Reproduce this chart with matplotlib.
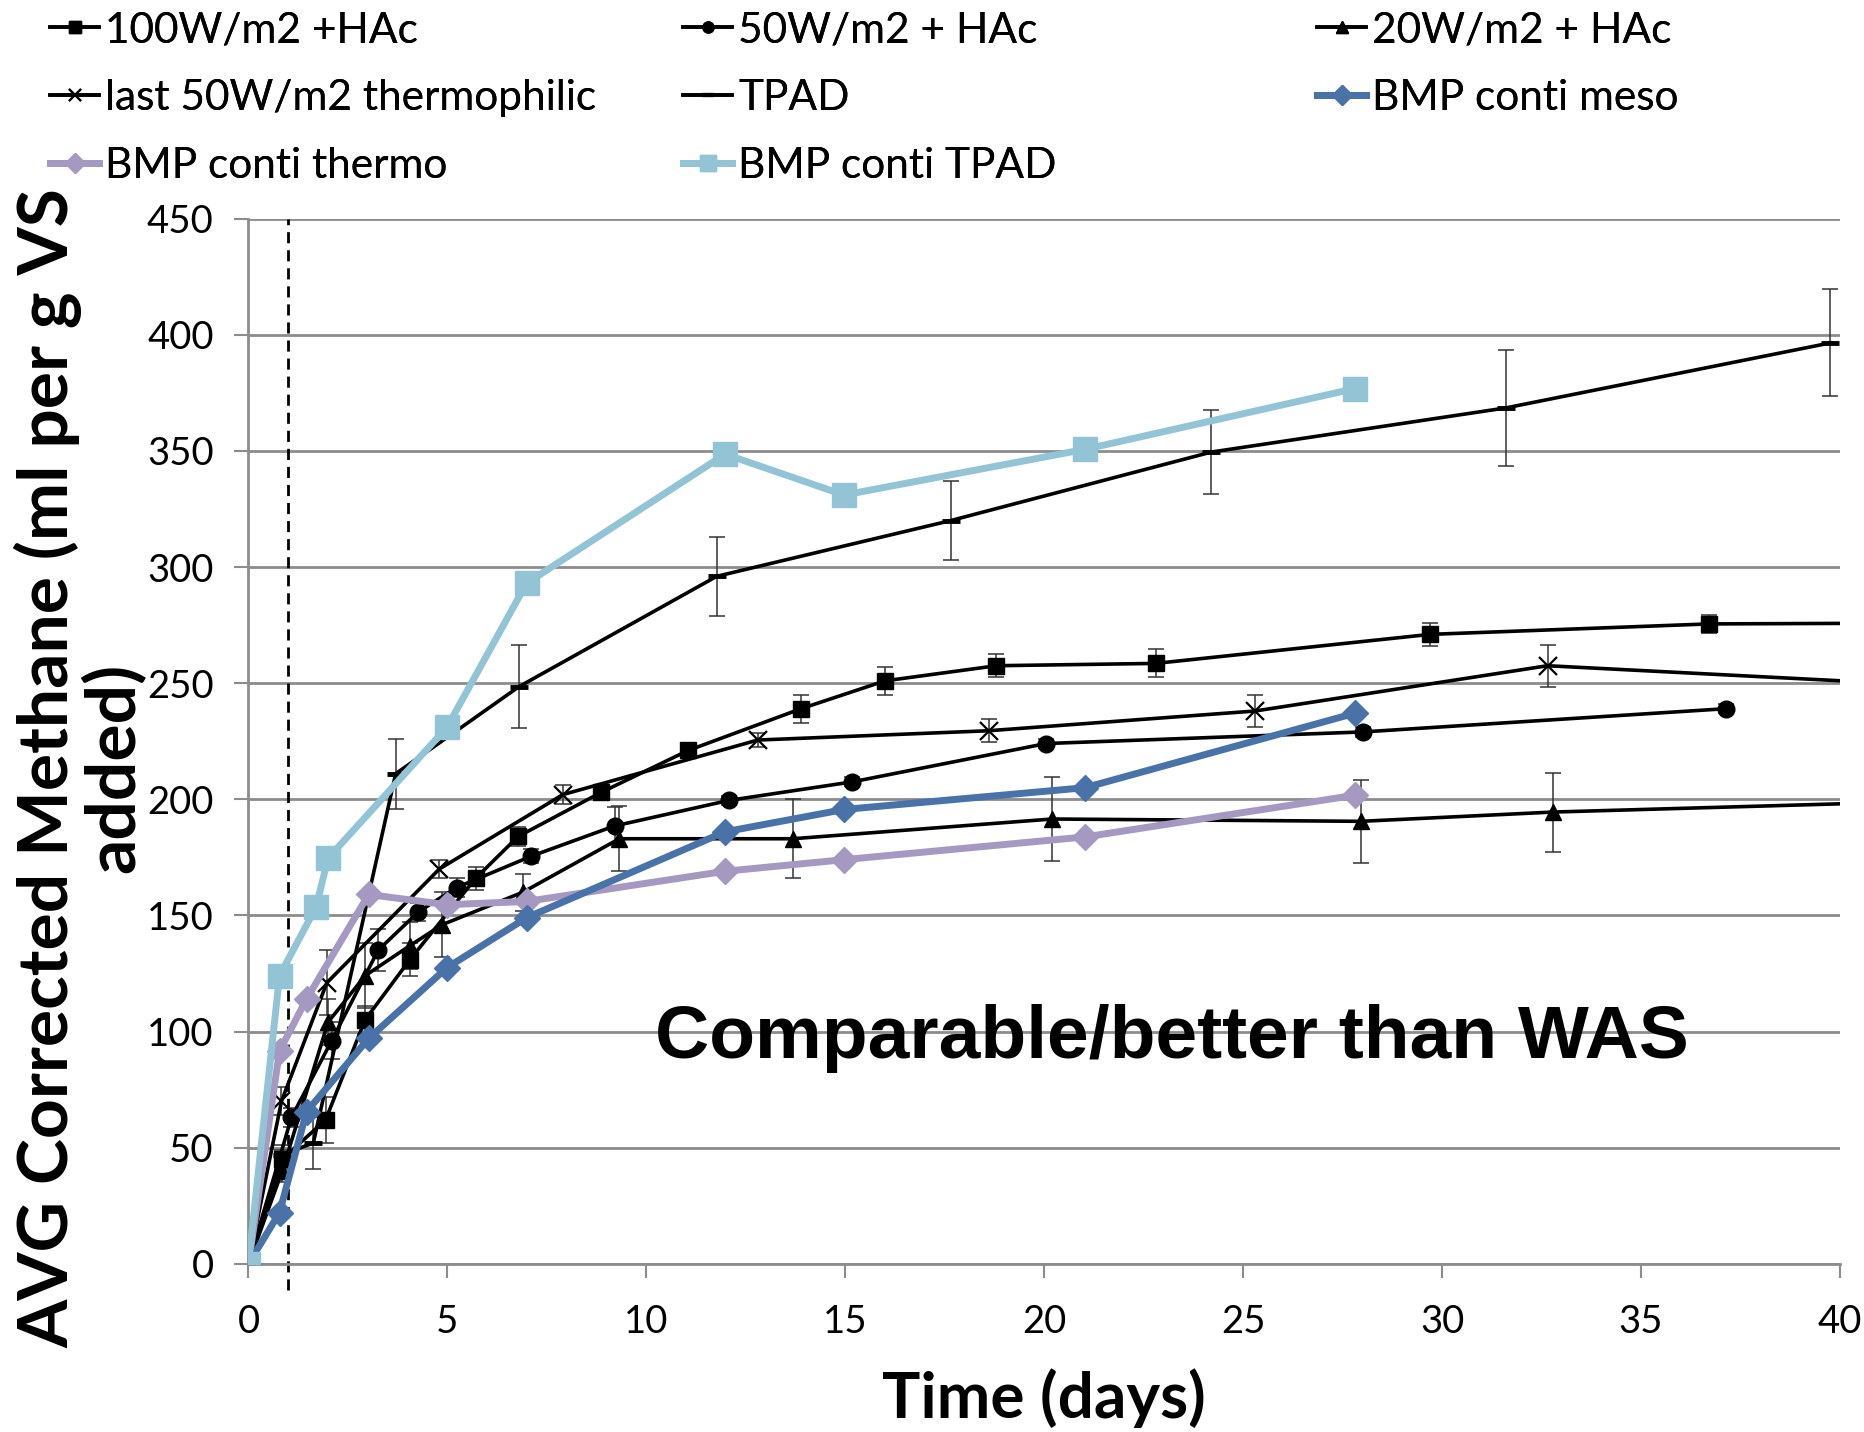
import matplotlib
matplotlib.use("Agg")
import matplotlib.pyplot as plt
from matplotlib.lines import Line2D
from matplotlib import font_manager as fm

# ---------------- data ----------------
t_100 = [0, 0.85, 1.94, 2.93, 4.06, 5.71, 6.78, 8.87, 11.05, 13.89, 16.0, 18.8, 22.8, 29.7, 36.7, 44]
y_100 = [0, 45, 62, 105, 131, 166, 184, 203, 221, 239, 251, 257.5, 258.5, 271, 275.5, 276]
e_100 = [0, 4, 10, 6, 7, 5, 4, 3, 3, 6, 6, 5, 6, 5, 4, 0]

t_50 = [0, 1.08, 2.09, 3.26, 4.27, 5.23, 7.11, 9.2, 12.07, 15.18, 20.05, 28.02, 37.13]
y_50 = [0, 63, 96, 135, 151.5, 162, 175.5, 188.5, 199.5, 207.5, 224, 229, 239]
e_50 = [0, 4, 8, 9, 4, 4, 3, 8, 2, 2, 2, 2, 2]

t_20 = [0, 0.85, 2.0, 2.93, 4.06, 4.87, 6.9, 9.32, 13.68, 20.2, 27.96, 32.8, 44]
y_20 = [0, 40, 104, 124, 137, 146, 160, 183, 183, 191.5, 190.5, 194.5, 200]
e_20 = [0, 5, 10, 14, 10, 14, 8, 14, 17, 18, 18, 17, 0]

t_last = [0, 0.83, 1.97, 4.8, 7.9, 12.8, 18.6, 25.3, 32.65, 44]
y_last = [0, 70, 121, 170, 202, 225.5, 229.5, 238, 257.5, 247.5]
e_last = [0, 6, 14, 4, 4, 3, 5, 7, 9, 0]

t_tpad = [0, 0.85, 1.63, 3.7, 6.8, 11.77, 17.65, 24.2, 31.6, 39.76]
y_tpad = [0, 47, 52, 211, 248.5, 296, 320, 349.5, 368.5, 396.5]
e_tpad = [0, 4, 11, 15, 18, 17, 17, 18, 25, 23]

t_bmp = [0, 0.78, 1.46, 3.02, 4.99, 6.99, 11.98, 14.97, 21.03, 27.8]
y_meso = [0, 22, 65.5, 97, 127.5, 149, 186, 195.6, 205, 237]
y_thermo = [0, 91.6, 114, 159, 154.6, 156, 169, 174, 183.8, 201.7]
t_bmp_tpad = [0, 0.78, 1.7, 2.0, 4.99, 6.99, 11.98, 14.97, 21.03, 27.8]
y_bmp_tpad = [0, 124, 153.6, 174.6, 231, 293, 348.6, 331, 350.7, 376.8]

labels = ["100W/m2 +HAc", "50W/m2 + HAc", "20W/m2 + HAc",
          "last 50W/m2 thermophilic", "TPAD", "BMP conti meso",
          "BMP conti thermo", "BMP conti TPAD"]

x_ticks = [0, 5, 10, 15, 20, 25, 30, 35, 40]
y_ticks = [0, 50, 100, 150, 200, 250, 300, 350, 400, 450]

# ---------------- fonts ----------------
available = {f.name for f in fm.fontManager.ttflist}
def pick(cands, default="DejaVu Sans"):
    for c in cands:
        if c in available:
            return c
    return default

NARROW = pick(["Lato", "Carlito"])
ARIAL = pick(["Liberation Sans", "Arimo", "Arial"])
plt.rcParams["font.family"] = [NARROW, "DejaVu Sans"]

C_MESO = "#4872A8"
C_THERMO = "#A699C1"
C_LTPAD = "#92C4D6"
GRID = "#8C8C8C"

fig = plt.figure(figsize=(18.64, 14.32), dpi=100)
ax = fig.add_axes([0.1333, 0.1175, 0.9871 - 0.1333, 0.8473 - 0.1175])

ax.set_xlim(0, 40)
ax.set_ylim(0, 450)
ax.set_xticks(x_ticks)
ax.set_yticks(y_ticks)
ax.yaxis.grid(True, color=GRID, lw=2)
ax.set_axisbelow(True)
for s in ["top", "right"]:
    ax.spines[s].set_visible(False)
for s in ["left", "bottom"]:
    ax.spines[s].set_color(GRID)
    ax.spines[s].set_linewidth(2)
ax.tick_params(axis="both", colors=GRID, length=10, width=1.5, labelsize=27.5,
               labelcolor="black")
ax.tick_params(axis="y", pad=15)
ax.tick_params(axis="x", pad=19)

# reference dashed line at day 1
ax.axvline(1.0, ymin=-0.025, ymax=1.0, color="black", lw=2, ls=(0, (4, 2.5)),
           clip_on=False, zorder=2)

black_kw = dict(color="black", lw=2.6, zorder=3)
err_kw = dict(fmt="none", ecolor="#333333", elinewidth=1.1, capsize=6, capthick=1.1, zorder=2)

series_black = [
    (t_100, y_100, e_100, dict(marker="s", ms=12)),
    (t_50, y_50, e_50, dict(marker="o", ms=12)),
    (t_20, y_20, e_20, dict(marker="^", ms=12)),
    (t_last, y_last, e_last, dict(marker="x", ms=13, mew=1.6)),
    (t_tpad, y_tpad, e_tpad, dict(marker="_", ms=13, mew=3.5)),
]
for t, y, e, mk in series_black:
    ax.errorbar(t, y, yerr=e, **err_kw)
    ax.plot(t, y, **black_kw, **mk)

ax.plot(t_bmp, y_thermo, color=C_THERMO, lw=5, marker="D", ms=13, zorder=4)
ax.plot(t_bmp, y_meso, color=C_MESO, lw=5, marker="D", ms=13, zorder=5)
ax.plot(t_bmp_tpad, y_bmp_tpad, color=C_LTPAD, lw=5, marker="s", ms=17, zorder=5)

ax.text(23.2, 97, "Comparable/better than WAS", ha="center", va="center",
        fontsize=54, fontweight="bold", family=[ARIAL, "DejaVu Sans"], zorder=6)

ax.set_xlabel("Time (days)", fontsize=46, fontweight="bold", labelpad=20)
fig.text(0.043, 1 - 768 / 1432, "AVG Corrected Methane (ml per g VS\nadded)",
         rotation=90, ha="center", va="center", multialignment="center",
         fontsize=50, fontweight="bold", linespacing=0.98)

# ---------------- legend (3 columns placed manually) ----------------
h = [
    Line2D([], [], color="black", lw=2.6, marker="s", ms=8),
    Line2D([], [], color="black", lw=2.6, marker="o", ms=8),
    Line2D([], [], color="black", lw=2.6, marker="^", ms=8),
    Line2D([], [], color="black", lw=2.6, marker="x", ms=9, mew=1.5),
    Line2D([], [], color="black", lw=2.6, marker="_", ms=9, mew=3),
    Line2D([], [], color=C_MESO, lw=5, marker="D", ms=10),
    Line2D([], [], color=C_THERMO, lw=5, marker="D", ms=10),
    Line2D([], [], color=C_LTPAD, lw=5, marker="s", ms=12),
]
cols = [[0, 3, 6], [1, 4, 7], [2, 5]]
col_x = [50, 683, 1317]
for ci, idx in enumerate(cols):
    leg = fig.legend([h[i] for i in idx], [labels[i] for i in idx],
                     loc="upper left", bbox_to_anchor=(col_x[ci] / 1864 - 0.009, 1.004),
                     frameon=False, fontsize=30.5, handlelength=1.15, handletextpad=0.15,
                     labelspacing=0.7, borderaxespad=0)
    fig.add_artist(leg)

fig.savefig("out.png", dpi=100)
